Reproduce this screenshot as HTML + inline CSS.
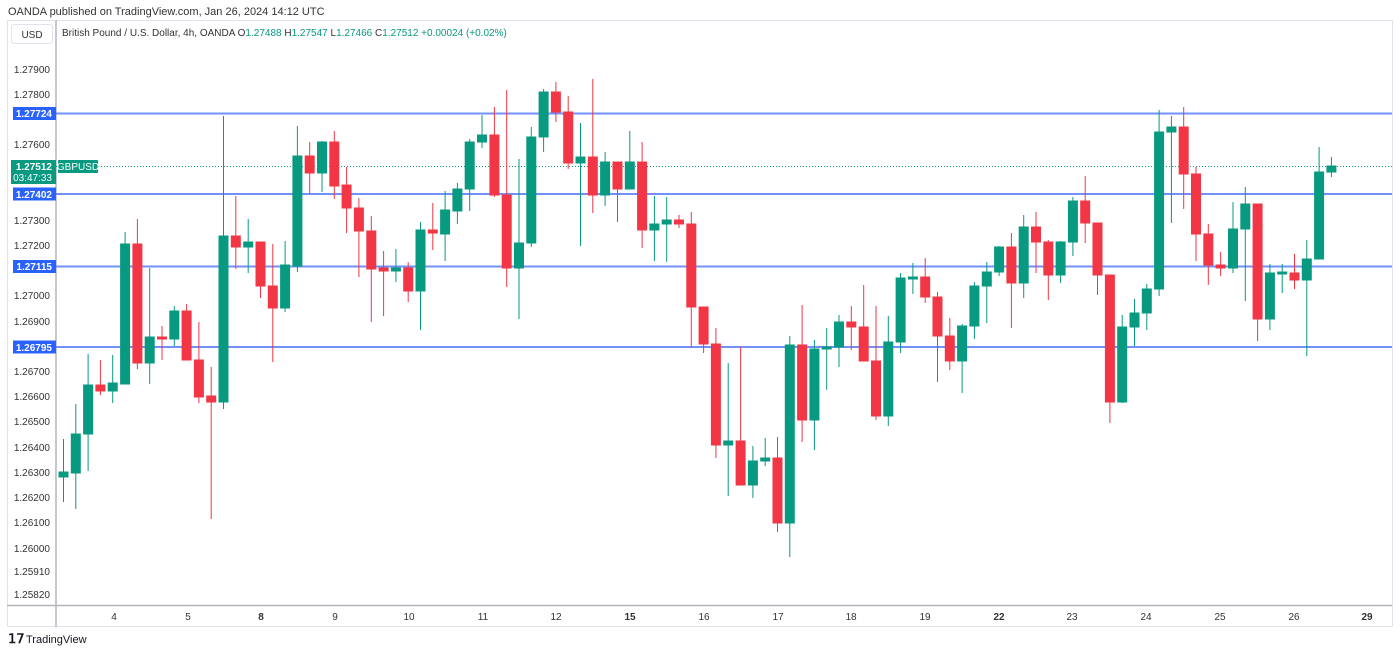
<!DOCTYPE html>
<html><head><meta charset="utf-8"><style>
html,body{margin:0;padding:0;background:#fff;width:1400px;height:653px;overflow:hidden;font-family:"Liberation Sans",sans-serif;}
</style></head><body>
<svg width="1400" height="653" xmlns="http://www.w3.org/2000/svg" font-family="Liberation Sans, sans-serif">
<text x="8" y="15" font-size="11" fill="#333">OANDA published on TradingView.com, Jan 26, 2024 14:12 UTC</text>
<rect x="7.5" y="20.5" width="1385" height="606" fill="none" stroke="#e0e3eb"/>
<line x1="56" y1="20" x2="56" y2="627" stroke="#b2b5be" stroke-width="1.5"/>
<line x1="7" y1="605.5" x2="1392" y2="605.5" stroke="#b2b5be" stroke-width="1.5"/>
<rect x="11.5" y="24.5" width="41" height="19" rx="3" fill="#fff" stroke="#e0e3eb"/>
<text x="32" y="38" font-size="10" fill="#333" text-anchor="middle">USD</text>
<text x="62" y="36" font-size="10" fill="#333">British Pound / U.S. Dollar, 4h, OANDA <tspan>O</tspan><tspan fill="#089981">1.27488</tspan> H<tspan fill="#089981">1.27547</tspan> L<tspan fill="#089981">1.27466</tspan> C<tspan fill="#089981">1.27512</tspan> <tspan fill="#089981">+0.00024 (+0.02%)</tspan></text>
<g font-size="10" fill="#333" text-anchor="end">
<text x="50" y="73">1.27900</text><text x="50" y="98">1.27800</text><text x="50" y="148">1.27600</text>
<text x="50" y="224">1.27300</text><text x="50" y="249">1.27200</text><text x="50" y="299">1.27000</text>
<text x="50" y="325">1.26900</text><text x="50" y="375">1.26700</text><text x="50" y="400">1.26600</text>
<text x="50" y="425">1.26500</text><text x="50" y="451">1.26400</text><text x="50" y="476">1.26300</text>
<text x="50" y="501">1.26200</text><text x="50" y="526">1.26100</text><text x="50" y="552">1.26000</text>
<text x="50" y="575">1.25910</text><text x="50" y="598">1.25820</text>
</g>
<g stroke="#5b7df7" stroke-width="2" opacity="0.85">
<line x1="56" y1="113.5" x2="1392" y2="113.5"/><line x1="56" y1="194" x2="1392" y2="194"/>
<line x1="56" y1="266.5" x2="1392" y2="266.5"/><line x1="56" y1="347" x2="1392" y2="347"/>
</g>
<line x1="56" y1="166.5" x2="1392" y2="166.5" stroke="#089981" stroke-dasharray="1,2"/>
<g font-size="10" font-weight="bold" fill="#fff" text-anchor="end">
<rect x="13" y="107" width="43" height="13" fill="#2962ff"/><text x="52" y="117">1.27724</text>
<rect x="13" y="187.5" width="43" height="13" fill="#2962ff"/><text x="52" y="198">1.27402</text>
<rect x="13" y="260" width="43" height="13" fill="#2962ff"/><text x="52" y="270">1.27115</text>
<rect x="13" y="340.5" width="43" height="13" fill="#2962ff"/><text x="52" y="351">1.26795</text>
<rect x="11" y="160" width="45" height="24" fill="#089981"/><text x="52" y="170">1.27512</text>
<text x="52" y="181" font-weight="normal">03:47:33</text>
</g>
<rect x="58" y="160" width="40" height="13" rx="1" fill="#089981"/>
<text x="78" y="170" font-size="10" fill="#fff" text-anchor="middle">GBPUSD</text>
<g font-size="10" fill="#333" text-anchor="middle">
<text x="114" y="620">4</text><text x="188" y="620">5</text><text x="261" y="620" font-weight="bold">8</text>
<text x="335" y="620">9</text><text x="409" y="620">10</text><text x="483" y="620">11</text>
<text x="556" y="620">12</text><text x="630" y="620" font-weight="bold">15</text><text x="704" y="620">16</text>
<text x="778" y="620">17</text><text x="851" y="620">18</text><text x="925" y="620">19</text>
<text x="999" y="620" font-weight="bold">22</text><text x="1072" y="620">23</text><text x="1146" y="620">24</text>
<text x="1220" y="620">25</text><text x="1294" y="620">26</text><text x="1367" y="620" font-weight="bold">29</text>
</g>
<text x="8" y="643" font-size="13" font-weight="bold" fill="#131722">𝟣𝟩</text>
<text x="26" y="643" font-size="11" fill="#131722">TradingView</text>
<g id="c">
<g stroke="#089981" fill="#089981"><line x1="63.5" y1="439" x2="63.5" y2="502"/><rect x="59" y="472" width="9" height="5"/></g>
<g stroke="#089981" fill="#089981"><line x1="75.8" y1="404" x2="75.8" y2="509"/><rect x="71.3" y="434" width="9" height="39"/></g>
<g stroke="#089981" fill="#089981"><line x1="88.1" y1="354" x2="88.1" y2="471"/><rect x="83.6" y="385" width="9" height="49"/></g>
<g stroke="#f23645" fill="#f23645"><line x1="100.4" y1="360" x2="100.4" y2="395"/><rect x="95.9" y="385" width="9" height="6"/></g>
<g stroke="#089981" fill="#089981"><line x1="112.7" y1="355" x2="112.7" y2="403"/><rect x="108.2" y="383" width="9" height="8"/></g>
<g stroke="#089981" fill="#089981"><line x1="125.1" y1="232" x2="125.1" y2="384"/><rect x="120.6" y="244" width="9" height="140"/></g>
<g stroke="#f23645" fill="#f23645"><line x1="137.4" y1="219" x2="137.4" y2="369"/><rect x="132.9" y="244" width="9" height="119"/></g>
<g stroke="#089981" fill="#089981"><line x1="149.7" y1="268" x2="149.7" y2="384"/><rect x="145.2" y="337" width="9" height="26"/></g>
<g stroke="#f23645" fill="#f23645"><line x1="162" y1="326" x2="162" y2="360"/><rect x="157.5" y="337" width="9" height="2"/></g>
<g stroke="#089981" fill="#089981"><line x1="174.3" y1="306" x2="174.3" y2="346"/><rect x="169.8" y="311" width="9" height="28"/></g>
<g stroke="#f23645" fill="#f23645"><line x1="186.6" y1="304" x2="186.6" y2="360"/><rect x="182.1" y="311" width="9" height="49"/></g>
<g stroke="#f23645" fill="#f23645"><line x1="198.9" y1="322" x2="198.9" y2="403"/><rect x="194.4" y="360" width="9" height="37"/></g>
<g stroke="#f23645" fill="#f23645"><line x1="211.2" y1="367" x2="211.2" y2="519"/><rect x="206.7" y="396" width="9" height="6"/></g>
<g stroke="#089981" fill="#089981"><line x1="223.5" y1="116" x2="223.5" y2="409"/><rect x="219" y="236" width="9" height="166"/></g>
<g stroke="#f23645" fill="#f23645"><line x1="235.8" y1="196" x2="235.8" y2="269"/><rect x="231.3" y="236" width="9" height="11"/></g>
<g stroke="#089981" fill="#089981"><line x1="248.2" y1="219" x2="248.2" y2="273"/><rect x="243.7" y="242" width="9" height="5"/></g>
<g stroke="#f23645" fill="#f23645"><line x1="260.5" y1="242" x2="260.5" y2="298"/><rect x="256" y="242" width="9" height="44"/></g>
<g stroke="#f23645" fill="#f23645"><line x1="272.8" y1="244" x2="272.8" y2="362"/><rect x="268.3" y="286" width="9" height="22"/></g>
<g stroke="#089981" fill="#089981"><line x1="285.1" y1="241" x2="285.1" y2="312"/><rect x="280.6" y="265" width="9" height="43"/></g>
<g stroke="#089981" fill="#089981"><line x1="297.4" y1="126" x2="297.4" y2="272"/><rect x="292.9" y="156" width="9" height="110"/></g>
<g stroke="#f23645" fill="#f23645"><line x1="309.7" y1="142" x2="309.7" y2="194"/><rect x="305.2" y="156" width="9" height="17"/></g>
<g stroke="#089981" fill="#089981"><line x1="322" y1="141" x2="322" y2="192"/><rect x="317.5" y="142" width="9" height="31"/></g>
<g stroke="#f23645" fill="#f23645"><line x1="334.3" y1="131" x2="334.3" y2="199"/><rect x="329.8" y="142" width="9" height="44"/></g>
<g stroke="#f23645" fill="#f23645"><line x1="346.6" y1="167" x2="346.6" y2="233"/><rect x="342.1" y="185" width="9" height="23"/></g>
<g stroke="#f23645" fill="#f23645"><line x1="358.9" y1="198" x2="358.9" y2="277"/><rect x="354.4" y="208" width="9" height="23"/></g>
<g stroke="#f23645" fill="#f23645"><line x1="371.3" y1="216" x2="371.3" y2="322"/><rect x="366.8" y="231" width="9" height="38"/></g>
<g stroke="#f23645" fill="#f23645"><line x1="383.6" y1="251" x2="383.6" y2="316"/><rect x="379.1" y="268" width="9" height="3"/></g>
<g stroke="#089981" fill="#089981"><line x1="395.9" y1="249" x2="395.9" y2="282"/><rect x="391.4" y="268" width="9" height="3"/></g>
<g stroke="#f23645" fill="#f23645"><line x1="408.2" y1="262" x2="408.2" y2="302"/><rect x="403.7" y="268" width="9" height="23"/></g>
<g stroke="#089981" fill="#089981"><line x1="420.5" y1="222" x2="420.5" y2="330"/><rect x="416" y="230" width="9" height="61"/></g>
<g stroke="#f23645" fill="#f23645"><line x1="432.8" y1="203" x2="432.8" y2="250"/><rect x="428.3" y="230" width="9" height="3"/></g>
<g stroke="#089981" fill="#089981"><line x1="445.1" y1="191" x2="445.1" y2="261"/><rect x="440.6" y="210" width="9" height="24"/></g>
<g stroke="#089981" fill="#089981"><line x1="457.4" y1="183" x2="457.4" y2="224"/><rect x="452.9" y="189" width="9" height="22"/></g>
<g stroke="#089981" fill="#089981"><line x1="469.7" y1="139" x2="469.7" y2="211"/><rect x="465.2" y="142" width="9" height="47"/></g>
<g stroke="#089981" fill="#089981"><line x1="482" y1="115" x2="482" y2="148"/><rect x="477.5" y="135" width="9" height="7"/></g>
<g stroke="#f23645" fill="#f23645"><line x1="494.4" y1="107" x2="494.4" y2="197"/><rect x="489.9" y="135" width="9" height="60"/></g>
<g stroke="#f23645" fill="#f23645"><line x1="506.7" y1="90" x2="506.7" y2="287"/><rect x="502.2" y="195" width="9" height="73"/></g>
<g stroke="#089981" fill="#089981"><line x1="519" y1="159" x2="519" y2="319"/><rect x="514.5" y="243" width="9" height="25"/></g>
<g stroke="#089981" fill="#089981"><line x1="531.3" y1="127" x2="531.3" y2="247"/><rect x="526.8" y="137" width="9" height="106"/></g>
<g stroke="#089981" fill="#089981"><line x1="543.6" y1="89" x2="543.6" y2="152"/><rect x="539.1" y="92" width="9" height="45"/></g>
<g stroke="#f23645" fill="#f23645"><line x1="555.9" y1="82" x2="555.9" y2="122"/><rect x="551.4" y="92" width="9" height="20"/></g>
<g stroke="#f23645" fill="#f23645"><line x1="568.2" y1="96" x2="568.2" y2="169"/><rect x="563.7" y="112" width="9" height="51"/></g>
<g stroke="#089981" fill="#089981"><line x1="580.5" y1="123" x2="580.5" y2="246"/><rect x="576" y="157" width="9" height="6"/></g>
<g stroke="#f23645" fill="#f23645"><line x1="592.8" y1="79" x2="592.8" y2="213"/><rect x="588.3" y="157" width="9" height="38"/></g>
<g stroke="#089981" fill="#089981"><line x1="605.1" y1="152" x2="605.1" y2="206"/><rect x="600.6" y="162" width="9" height="33"/></g>
<g stroke="#f23645" fill="#f23645"><line x1="617.5" y1="162" x2="617.5" y2="222"/><rect x="613" y="162" width="9" height="27"/></g>
<g stroke="#089981" fill="#089981"><line x1="629.8" y1="131" x2="629.8" y2="189"/><rect x="625.3" y="162" width="9" height="27"/></g>
<g stroke="#f23645" fill="#f23645"><line x1="642.1" y1="142" x2="642.1" y2="248"/><rect x="637.6" y="162" width="9" height="68"/></g>
<g stroke="#089981" fill="#089981"><line x1="654.4" y1="196" x2="654.4" y2="261"/><rect x="649.9" y="224" width="9" height="6"/></g>
<g stroke="#089981" fill="#089981"><line x1="666.7" y1="197" x2="666.7" y2="262"/><rect x="662.2" y="220" width="9" height="4"/></g>
<g stroke="#f23645" fill="#f23645"><line x1="679" y1="215" x2="679" y2="228"/><rect x="674.5" y="220" width="9" height="4"/></g>
<g stroke="#f23645" fill="#f23645"><line x1="691.3" y1="212" x2="691.3" y2="347"/><rect x="686.8" y="224" width="9" height="83"/></g>
<g stroke="#f23645" fill="#f23645"><line x1="703.6" y1="307" x2="703.6" y2="353"/><rect x="699.1" y="307" width="9" height="37"/></g>
<g stroke="#f23645" fill="#f23645"><line x1="715.9" y1="328" x2="715.9" y2="458"/><rect x="711.4" y="344" width="9" height="101"/></g>
<g stroke="#089981" fill="#089981"><line x1="728.2" y1="363" x2="728.2" y2="496"/><rect x="723.7" y="441" width="9" height="4"/></g>
<g stroke="#f23645" fill="#f23645"><line x1="740.6" y1="347" x2="740.6" y2="485"/><rect x="736.1" y="441" width="9" height="44"/></g>
<g stroke="#089981" fill="#089981"><line x1="752.9" y1="446" x2="752.9" y2="498"/><rect x="748.4" y="461" width="9" height="24"/></g>
<g stroke="#089981" fill="#089981"><line x1="765.2" y1="438" x2="765.2" y2="466"/><rect x="760.7" y="458" width="9" height="3"/></g>
<g stroke="#f23645" fill="#f23645"><line x1="777.5" y1="437" x2="777.5" y2="532"/><rect x="773" y="458" width="9" height="65"/></g>
<g stroke="#089981" fill="#089981"><line x1="789.8" y1="336" x2="789.8" y2="557"/><rect x="785.3" y="345" width="9" height="178"/></g>
<g stroke="#f23645" fill="#f23645"><line x1="802.1" y1="305" x2="802.1" y2="442"/><rect x="797.6" y="345" width="9" height="75"/></g>
<g stroke="#089981" fill="#089981"><line x1="814.4" y1="340" x2="814.4" y2="450"/><rect x="809.9" y="349" width="9" height="71"/></g>
<g stroke="#089981" fill="#089981"><line x1="826.7" y1="328" x2="826.7" y2="390"/><rect x="822.2" y="347" width="9" height="2"/></g>
<g stroke="#089981" fill="#089981"><line x1="839" y1="315" x2="839" y2="367"/><rect x="834.5" y="322" width="9" height="25"/></g>
<g stroke="#f23645" fill="#f23645"><line x1="851.3" y1="306" x2="851.3" y2="350"/><rect x="846.8" y="322" width="9" height="5"/></g>
<g stroke="#f23645" fill="#f23645"><line x1="863.7" y1="285" x2="863.7" y2="361"/><rect x="859.2" y="327" width="9" height="34"/></g>
<g stroke="#f23645" fill="#f23645"><line x1="876" y1="306" x2="876" y2="420"/><rect x="871.5" y="361" width="9" height="55"/></g>
<g stroke="#089981" fill="#089981"><line x1="888.3" y1="316" x2="888.3" y2="426"/><rect x="883.8" y="342" width="9" height="74"/></g>
<g stroke="#089981" fill="#089981"><line x1="900.6" y1="273" x2="900.6" y2="353"/><rect x="896.1" y="278" width="9" height="64"/></g>
<g stroke="#089981" fill="#089981"><line x1="912.9" y1="263" x2="912.9" y2="294"/><rect x="908.4" y="277" width="9" height="2"/></g>
<g stroke="#f23645" fill="#f23645"><line x1="925.2" y1="258" x2="925.2" y2="303"/><rect x="920.7" y="277" width="9" height="20"/></g>
<g stroke="#f23645" fill="#f23645"><line x1="937.5" y1="292" x2="937.5" y2="382"/><rect x="933" y="297" width="9" height="39"/></g>
<g stroke="#f23645" fill="#f23645"><line x1="949.8" y1="318" x2="949.8" y2="370"/><rect x="945.3" y="336" width="9" height="25"/></g>
<g stroke="#089981" fill="#089981"><line x1="962.1" y1="324" x2="962.1" y2="393"/><rect x="957.6" y="326" width="9" height="35"/></g>
<g stroke="#089981" fill="#089981"><line x1="974.4" y1="282" x2="974.4" y2="339"/><rect x="969.9" y="286" width="9" height="40"/></g>
<g stroke="#089981" fill="#089981"><line x1="986.8" y1="262" x2="986.8" y2="323"/><rect x="982.3" y="272" width="9" height="14"/></g>
<g stroke="#089981" fill="#089981"><line x1="999.1" y1="246" x2="999.1" y2="276"/><rect x="994.6" y="247" width="9" height="25"/></g>
<g stroke="#f23645" fill="#f23645"><line x1="1011.4" y1="233" x2="1011.4" y2="328"/><rect x="1006.9" y="247" width="9" height="36"/></g>
<g stroke="#089981" fill="#089981"><line x1="1023.7" y1="215" x2="1023.7" y2="298"/><rect x="1019.2" y="227" width="9" height="56"/></g>
<g stroke="#f23645" fill="#f23645"><line x1="1036" y1="212" x2="1036" y2="273"/><rect x="1031.5" y="227" width="9" height="15"/></g>
<g stroke="#f23645" fill="#f23645"><line x1="1048.3" y1="240" x2="1048.3" y2="300"/><rect x="1043.8" y="242" width="9" height="33"/></g>
<g stroke="#089981" fill="#089981"><line x1="1060.6" y1="241" x2="1060.6" y2="283"/><rect x="1056.1" y="242" width="9" height="33"/></g>
<g stroke="#089981" fill="#089981"><line x1="1072.9" y1="197" x2="1072.9" y2="256"/><rect x="1068.4" y="201" width="9" height="41"/></g>
<g stroke="#f23645" fill="#f23645"><line x1="1085.2" y1="176" x2="1085.2" y2="243"/><rect x="1080.7" y="201" width="9" height="22"/></g>
<g stroke="#f23645" fill="#f23645"><line x1="1097.5" y1="223" x2="1097.5" y2="295"/><rect x="1093" y="223" width="9" height="52"/></g>
<g stroke="#f23645" fill="#f23645"><line x1="1109.9" y1="275" x2="1109.9" y2="423"/><rect x="1105.4" y="275" width="9" height="127"/></g>
<g stroke="#089981" fill="#089981"><line x1="1122.2" y1="315" x2="1122.2" y2="403"/><rect x="1117.7" y="327" width="9" height="75"/></g>
<g stroke="#089981" fill="#089981"><line x1="1134.5" y1="299" x2="1134.5" y2="346"/><rect x="1130" y="313" width="9" height="14"/></g>
<g stroke="#089981" fill="#089981"><line x1="1146.8" y1="284" x2="1146.8" y2="330"/><rect x="1142.3" y="289" width="9" height="24"/></g>
<g stroke="#089981" fill="#089981"><line x1="1159.1" y1="110" x2="1159.1" y2="296"/><rect x="1154.6" y="132" width="9" height="157"/></g>
<g stroke="#089981" fill="#089981"><line x1="1171.4" y1="116" x2="1171.4" y2="223"/><rect x="1166.9" y="127" width="9" height="5"/></g>
<g stroke="#f23645" fill="#f23645"><line x1="1183.7" y1="107" x2="1183.7" y2="209"/><rect x="1179.2" y="127" width="9" height="47"/></g>
<g stroke="#f23645" fill="#f23645"><line x1="1196" y1="167" x2="1196" y2="261"/><rect x="1191.5" y="174" width="9" height="60"/></g>
<g stroke="#f23645" fill="#f23645"><line x1="1208.3" y1="224" x2="1208.3" y2="285"/><rect x="1203.8" y="234" width="9" height="31"/></g>
<g stroke="#f23645" fill="#f23645"><line x1="1220.6" y1="252" x2="1220.6" y2="276"/><rect x="1216.1" y="265" width="9" height="3"/></g>
<g stroke="#089981" fill="#089981"><line x1="1233" y1="202" x2="1233" y2="273"/><rect x="1228.5" y="229" width="9" height="39"/></g>
<g stroke="#089981" fill="#089981"><line x1="1245.3" y1="187" x2="1245.3" y2="301"/><rect x="1240.8" y="204" width="9" height="25"/></g>
<g stroke="#f23645" fill="#f23645"><line x1="1257.6" y1="204" x2="1257.6" y2="341"/><rect x="1253.1" y="204" width="9" height="115"/></g>
<g stroke="#089981" fill="#089981"><line x1="1269.9" y1="264" x2="1269.9" y2="330"/><rect x="1265.4" y="273" width="9" height="46"/></g>
<g stroke="#089981" fill="#089981"><line x1="1282.2" y1="264" x2="1282.2" y2="293"/><rect x="1277.7" y="272" width="9" height="2"/></g>
<g stroke="#f23645" fill="#f23645"><line x1="1294.5" y1="254" x2="1294.5" y2="289"/><rect x="1290" y="273" width="9" height="7"/></g>
<g stroke="#089981" fill="#089981"><line x1="1306.8" y1="240" x2="1306.8" y2="356"/><rect x="1302.3" y="259" width="9" height="21"/></g>
<g stroke="#089981" fill="#089981"><line x1="1319.1" y1="147" x2="1319.1" y2="259"/><rect x="1314.6" y="172" width="9" height="87"/></g>
<g stroke="#089981" fill="#089981"><line x1="1331.4" y1="157" x2="1331.4" y2="177"/><rect x="1326.9" y="166" width="9" height="6"/></g>
</g>
</svg>
</body></html>
